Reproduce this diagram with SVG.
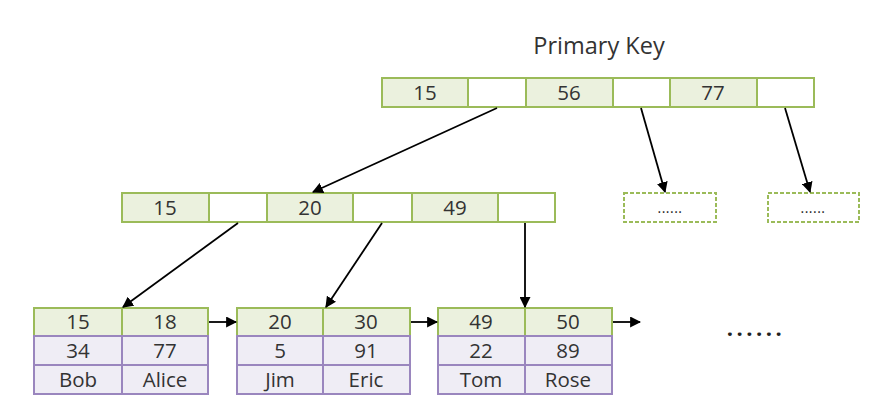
<svg xmlns="http://www.w3.org/2000/svg" width="877" height="415" viewBox="0 0 877 415">
<defs>
<style>
.k{fill:#ebf1de;stroke:#9bbb59;stroke-width:2}
.e{fill:#ffffff;stroke:#9bbb59;stroke-width:2}
.p{fill:#efedf5;stroke:#9a86be;stroke-width:2}
.d{fill:#ffffff;stroke:#9bbb59;stroke-width:2;stroke-dasharray:4 2}
text{font-family:"Open Sans","Noto Sans","DejaVu Sans",sans-serif;font-size:20.5px;fill:#333333;text-anchor:middle}
.c{stroke:#000000;stroke-width:1.8;fill:none;marker-end:url(#a)}
</style>
<marker id="a" viewBox="0 0 10 10" refX="9" refY="5" markerWidth="11" markerHeight="11" orient="auto" markerUnits="userSpaceOnUse">
<path d="M0,0 L10,5 L0,10 z" fill="#000"/>
</marker>
</defs>
<rect width="877" height="415" fill="#fff"/>
<text x="599" y="54" style="font-size:23.5px">Primary Key</text>
<g id="root">
<rect class="k" x="382" y="78" width="86" height="29"/>
<rect class="e" x="468" y="78" width="58" height="29"/>
<rect class="k" x="526" y="78" width="87" height="29"/>
<rect class="e" x="613" y="78" width="57" height="29"/>
<rect class="k" x="670" y="78" width="87" height="29"/>
<rect class="e" x="757" y="78" width="57" height="29"/>
<text x="425" y="100">15</text>
<text x="569" y="100">56</text>
<text x="713" y="100">77</text>
</g>
<g id="mid">
<rect class="k" x="122" y="193" width="87" height="29"/>
<rect class="e" x="209" y="193" width="58" height="29"/>
<rect class="k" x="267" y="193" width="86" height="29"/>
<rect class="e" x="353" y="193" width="59" height="29"/>
<rect class="k" x="412" y="193" width="86" height="29"/>
<rect class="e" x="498" y="193" width="57" height="29"/>
<text x="165" y="215">15</text>
<text x="310" y="215">20</text>
<text x="455" y="215">49</text>
</g>
<g id="more1">
<rect class="d" x="624" y="193" width="92" height="29"/>
<text x="670" y="213" style="font-size:14px;letter-spacing:0.5px;fill:#222">......</text>
</g>
<g id="more2">
<rect class="d" x="768" y="193" width="91" height="29"/>
<text x="813" y="213" style="font-size:14px;letter-spacing:0.5px;fill:#222">......</text>
</g>
<g id="leaf1">
<rect class="k" x="34" y="308" width="88" height="28"/>
<rect class="k" x="122" y="308" width="86" height="28"/>
<rect class="p" x="34" y="336" width="88" height="29"/>
<rect class="p" x="122" y="336" width="86" height="29"/>
<rect class="p" x="34" y="365" width="88" height="29"/>
<rect class="p" x="122" y="365" width="86" height="29"/>
<text x="78" y="329">15</text><text x="165" y="329">18</text>
<text x="78" y="358">34</text><text x="165" y="358">77</text>
<text x="78" y="387">Bob</text><text x="165" y="387">Alice</text>
</g>
<g id="leaf2">
<rect class="k" x="237" y="308" width="86" height="28"/>
<rect class="k" x="323" y="308" width="87" height="28"/>
<rect class="p" x="237" y="336" width="86" height="29"/>
<rect class="p" x="323" y="336" width="87" height="29"/>
<rect class="p" x="237" y="365" width="86" height="29"/>
<rect class="p" x="323" y="365" width="87" height="29"/>
<text x="280" y="329">20</text><text x="366" y="329">30</text>
<text x="280" y="358">5</text><text x="366" y="358">91</text>
<text x="280" y="387">Jim</text><text x="366" y="387">Eric</text>
</g>
<g id="leaf3">
<rect class="k" x="438" y="308" width="87" height="28"/>
<rect class="k" x="525" y="308" width="87" height="28"/>
<rect class="p" x="438" y="336" width="87" height="29"/>
<rect class="p" x="525" y="336" width="87" height="29"/>
<rect class="p" x="438" y="365" width="87" height="29"/>
<rect class="p" x="525" y="365" width="87" height="29"/>
<text x="481" y="329">49</text><text x="568" y="329">50</text>
<text x="481" y="358">22</text><text x="568" y="358">89</text>
<text x="481" y="387">Tom</text><text x="568" y="387">Rose</text>
</g>
<text x="756" y="336" style="font-size:22px;font-weight:bold;fill:#222;letter-spacing:3.5px">......</text>
<g id="connectors">
<line class="c" x1="497" y1="108" x2="313" y2="192"/>
<line class="c" x1="641" y1="108" x2="665" y2="192"/>
<line class="c" x1="785" y1="108" x2="810" y2="192"/>
<line class="c" x1="238" y1="223" x2="123" y2="307"/>
<line class="c" x1="382" y1="223" x2="326" y2="307"/>
<line class="c" x1="525" y1="223" x2="525" y2="307"/>
<line class="c" x1="209" y1="322" x2="236" y2="322"/>
<line class="c" x1="411" y1="322" x2="437" y2="322"/>
<line class="c" x1="613" y1="322" x2="640" y2="322"/>
</g>
</svg>
